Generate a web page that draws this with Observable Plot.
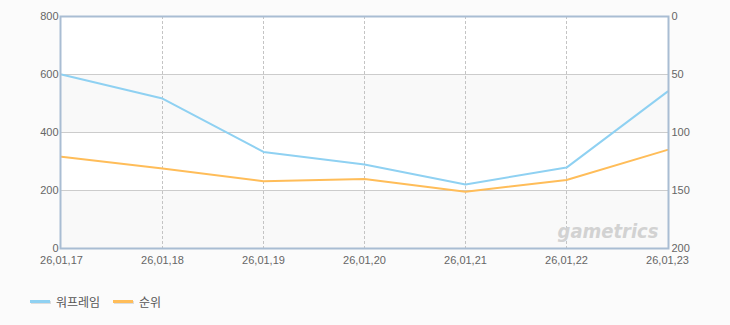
<!DOCTYPE html>
<html>
<head>
<meta charset="utf-8">
<script src="https://cdn.jsdelivr.net/npm/d3@7"></script>
<script src="https://cdn.jsdelivr.net/npm/@observablehq/plot@0.6"></script>
<style>
  html, body { margin: 0; padding: 0; background: #fbfbfb; }
  body { width: 730px; height: 325px; overflow: hidden; font-family: "Liberation Sans", "Noto Sans CJK KR", sans-serif; }
  #legend { height: 45px; position: relative; font-size: 12px; color: #555; font-family: "Noto Sans CJK KR", "Liberation Sans", sans-serif; }
  .item { position: absolute; top: 13px; display: flex; align-items: center; }
  .sw { width: 20px; height: 3px; margin-right: 6px; box-shadow: 1px 1px 0 #ddd; }
</style>
</head>
<body>
<div id="chart"></div>
<div id="legend"></div>
<script>
const dates = ["26,01,17", "26,01,18", "26,01,19", "26,01,20", "26,01,21", "26,01,22", "26,01,23"];
const warframe = [600, 517, 333, 290, 221, 279, 541];
const rank = [121, 131, 142, 140, 151, 141, 115];
const leftTicks = [0, 200, 400, 600, 800];
const rightTicks = [0, 50, 100, 150, 200];
const seriesNames = ["워프레임", "순위"];
const colors = ["#8fd1f2", "#ffbd59"];

// right axis (rank) is reversed 0..200 mapped onto left 800..0
const rankToLeft = r => 800 - r * 4;

const blueData = dates.map((d, i) => ({date: d, v: warframe[i]}));
const orangeData = dates.map((d, i) => ({date: d, v: rankToLeft(rank[i])}));
const bands = [
  {y1: 0, y2: 200, fill: "#f9f9f9"},
  {y1: 200, y2: 400, fill: "#ffffff"},
  {y1: 400, y2: 600, fill: "#f9f9f9"},
  {y1: 600, y2: 800, fill: "#ffffff"}
];

const plot = Plot.plot({
  width: 730,
  height: 280,
  marginTop: 16,
  marginBottom: 32,
  marginLeft: 60,
  marginRight: 62,
  style: {background: "transparent", fontFamily: "Liberation Sans, sans-serif", fontSize: "11px", color: "#666"},
  x: {type: "point", domain: dates, padding: 0, label: null},
  y: {domain: [0, 800], label: null},
  marks: [
    Plot.rect(bands, {y1: "y1", y2: "y2", fill: "fill"}),
    Plot.ruleY([200, 400, 600], {stroke: "#cccccc", strokeWidth: 1}),
    Plot.ruleX(dates.slice(1, -1), {stroke: "#c4c4c4", strokeDasharray: "3,2", strokeWidth: 1}),
    Plot.text(["gametrics"], {frameAnchor: "bottom-right", dx: -10, dy: -11, fontSize: 20, fontWeight: "bold", fontStyle: "italic", fill: "#d2d2d2", fontFamily: "DejaVu Sans Condensed, DejaVu Sans, sans-serif", text: d => d, textAnchor: "end"}),
    Plot.line(blueData, {x: "date", y: "v", stroke: colors[0], strokeWidth: 2}),
    Plot.line(orangeData, {x: "date", y: "v", stroke: colors[1], strokeWidth: 2}),
    Plot.frame({stroke: "#a9bdd3", strokeWidth: 2}),
    Plot.axisY(leftTicks, {anchor: "left", tickSize: 0, tickPadding: 2, fill: "#666", fontSize: 11, label: null}),
    Plot.axisY(rightTicks.map(rankToLeft), {anchor: "right", tickSize: 0, tickPadding: 3, fill: "#666", fontSize: 11, label: null, tickFormat: v => String((800 - v) / 4)}),
    Plot.axisX({anchor: "bottom", tickSize: 0, tickPadding: 8, fill: "#666", fontSize: 11, label: null})
  ]
});
document.getElementById("chart").appendChild(plot);

const legend = document.getElementById("legend");
const lefts = [30, 113];
seriesNames.forEach((n, i) => {
  const it = document.createElement("div");
  it.className = "item";
  it.style.left = lefts[i] + "px";
  it.innerHTML = `<span class="sw" style="background:${colors[i]}"></span><span>${n}</span>`;
  legend.appendChild(it);
});
</script>
</body>
</html>
